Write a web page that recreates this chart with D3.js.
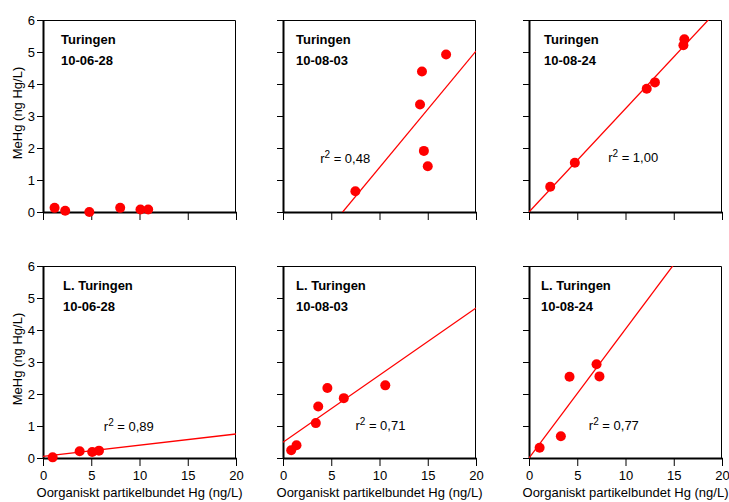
<!DOCTYPE html>
<html lang="sv">
<head>
<meta charset="utf-8">
<title>MeHg vs organiskt partikelbundet Hg</title>
<style>
  html, body { margin: 0; padding: 0; background: #fff; }
  text { font-family: "Liberation Sans", Arial, sans-serif; fill: #000; }
  .frame { fill: none; stroke: #000; stroke-width: 1px; }
  .axis path { stroke-width: 2px; }
  .axis line { stroke-width: 1px; }
</style>
</head>
<body>
<div id="chart"></div>
<script src="https://cdn.jsdelivr.net/npm/d3@7"></script>
<script>
// panel order: top row left->right, then bottom row left->right
var sites = ["Turingen", "Turingen", "Turingen", "L. Turingen", "L. Turingen", "L. Turingen"];
var dates = ["10-06-28", "10-08-03", "10-08-24", "10-06-28", "10-08-03", "10-08-24"];

// Organiskt partikelbundet Hg (ng/L)
var xVals = [
  [1.2, 2.3, 4.8, 8.0, 10.1, 10.9],
  [7.5, 14.2, 14.4, 14.6, 15.0, 16.9],
  [2.2, 4.75, 12.2, 13.05, 16.0, 16.1],
  [1.0, 3.8, 5.1, 5.8],
  [0.85, 1.4, 3.4, 3.65, 4.6, 6.3, 10.6],
  [1.1, 3.3, 4.2, 7.0, 7.3]
];
// MeHg (ng Hg/L)
var yVals = [
  [0.13, 0.04, 0.0, 0.13, 0.08, 0.08],
  [0.65, 3.36, 4.39, 1.91, 1.43, 4.92],
  [0.79, 1.54, 3.85, 4.05, 5.21, 5.4],
  [0.02, 0.21, 0.19, 0.23],
  [0.24, 0.4, 1.09, 1.61, 2.19, 1.87, 2.27],
  [0.32, 0.68, 2.54, 2.93, 2.55]
];

// linear fits: MeHg = intercept + slope * Hg  (null = no line)
var fitIntercepts = [null, -2.25, 0.0, 0.05, 0.49, 0.0];
var fitSlopes = [null, 0.364, 0.323, 0.035, 0.21, 0.403];
var r2Labels = [null, "0,48", "1,00", "0,89", "0,71", "0,77"];
// where the r2 text starts, in data units [x, y]
var r2Pos = [null, [3.85, 1.53], [8.2, 1.57], [6.3, 0.85], [7.5, 0.87], [6.2, 0.87]];

var xTicks = [0, 5, 10, 15, 20];
var yTicks = [0, 1, 2, 3, 4, 5, 6];
var xTitle = "Oorganiskt partikelbundet Hg (ng/L)";
var yTitle = "MeHg (ng Hg/L)";

var width = 729, height = 502;
var colLeft = [43, 283, 529];
var rowTop = [20, 266];
var pw = 193, ph = 192;
var titleDx = [18, 13, 15, 20, 13, 12];
var fs = "13px";

var svg = d3.select("#chart").append("svg")
  .attr("width", width)
  .attr("height", height);

var defs = svg.append("defs");

sites.forEach(function (site, i) {
  var col = i % 3, row = Math.floor(i / 3);
  var x0 = colLeft[col], y0 = rowTop[row];

  var x = d3.scaleLinear().domain([0, 20]).range([0, pw]);
  var y = d3.scaleLinear().domain([0, 6]).range([ph, 0]);

  var g = svg.append("g").attr("transform", "translate(" + x0 + "," + y0 + ")");

  defs.append("clipPath").attr("id", "clip" + i)
    .append("rect").attr("width", pw).attr("height", ph);

  // thin top/right frame
  g.append("path").attr("class", "frame")
    .attr("d", "M0,0.5H" + (pw - 0.5) + "V" + ph);

  // axes
  var xAxis = d3.axisBottom(x).tickValues(xTicks).tickSize(8).tickSizeOuter(0)
    .tickFormat(d3.format("d"));
  if (row === 0) xAxis.tickFormat("");
  var gx = g.append("g").attr("class", "axis")
    .attr("transform", "translate(0," + ph + ")")
    .call(xAxis);
  gx.selectAll("text").style("font-size", fs).attr("dy", "0.85em");

  var yAxis = d3.axisLeft(y).tickValues(yTicks).tickSize(6).tickSizeOuter(0)
    .tickFormat(d3.format("d"));
  if (col > 0) yAxis.tickFormat("");
  var gy = g.append("g").attr("class", "axis").call(yAxis);
  gy.selectAll("text").style("font-size", fs).attr("x", -8);

  svg.selectAll(".axis path").attr("stroke", "#000");
  svg.selectAll(".axis line").attr("stroke", "#000");
  svg.selectAll(".axis text").attr("fill", "#000");

  // fit line
  if (fitSlopes[i] !== null) {
    var b = fitIntercepts[i], m = fitSlopes[i];
    g.append("line")
      .attr("clip-path", "url(#clip" + i + ")")
      .attr("x1", x(0)).attr("y1", y(b))
      .attr("x2", x(20)).attr("y2", y(b + m * 20))
      .attr("stroke", "#ff0000")
      .attr("stroke-width", 1.3);
  }

  // points
  g.append("g").selectAll("circle")
    .data(xVals[i].map(function (v, k) { return [v, yVals[i][k]]; }))
    .join("circle")
    .attr("cx", function (d) { return x(d[0]); })
    .attr("cy", function (d) { return y(d[1]); })
    .attr("r", 5)
    .attr("fill", "#ff0000");

  // panel title
  g.append("text").attr("x", titleDx[i]).attr("y", 24)
    .style("font-size", fs).style("font-weight", "bold").text(site);
  g.append("text").attr("x", titleDx[i]).attr("y", 45)
    .style("font-size", fs).style("font-weight", "bold").text(dates[i]);

  // r2 label
  if (r2Labels[i] !== null) {
    var t = g.append("text")
      .attr("x", x(r2Pos[i][0])).attr("y", y(r2Pos[i][1]))
      .style("font-size", fs);
    t.append("tspan").text("r");
    t.append("tspan").attr("dy", -5).style("font-size", "10px").text("2");
    t.append("tspan").attr("dy", 5).text(" = " + r2Labels[i]);
  }

  // axis titles
  if (col === 0) {
    g.append("text")
      .attr("transform", "translate(-21," + (ph / 2 - 3) + ") rotate(-90)")
      .attr("text-anchor", "middle")
      .style("font-size", fs)
      .text(yTitle);
  }
  if (row === 1) {
    g.append("text")
      .attr("x", pw / 2).attr("y", ph + 39)
      .attr("text-anchor", "middle")
      .style("font-size", fs)
      .text(xTitle);
  }
});
</script>
</body>
</html>
